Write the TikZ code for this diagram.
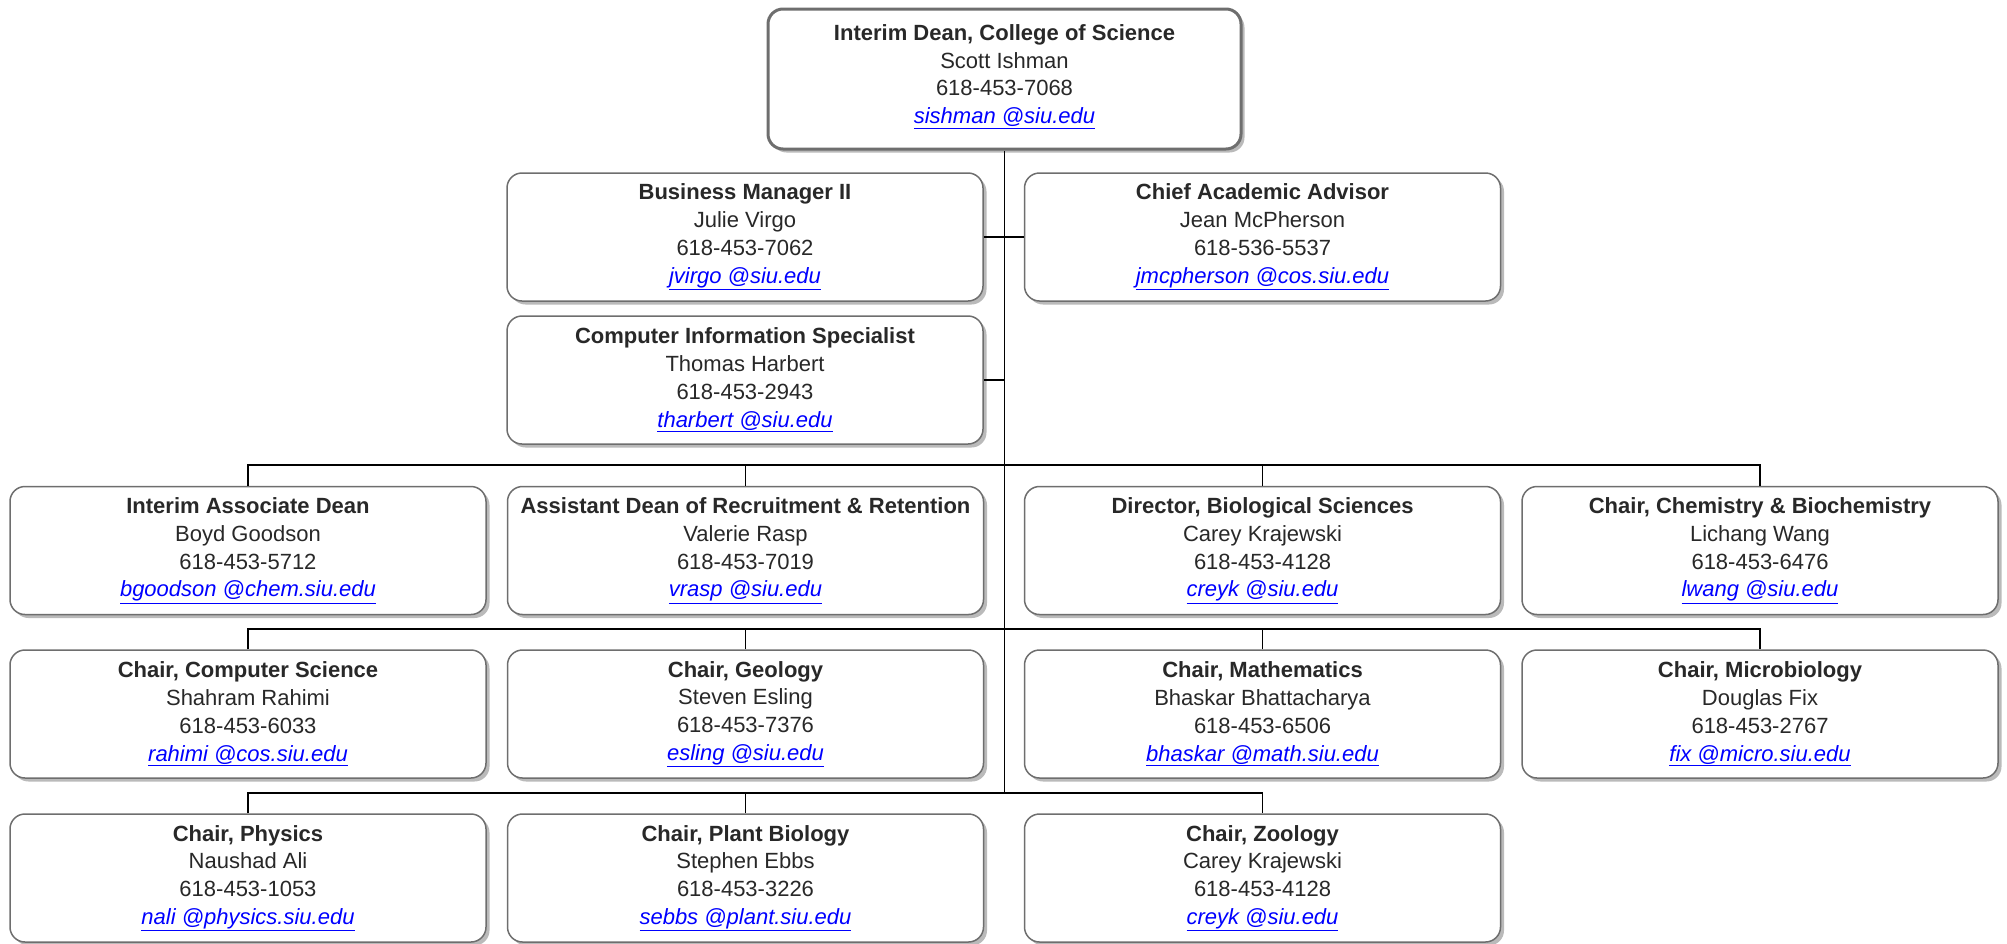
\documentclass[tikz,border=0pt]{standalone}
\usepackage{fontspec}
\setmainfont{Liberation Sans}
\usetikzlibrary{shadows}
\definecolor{boxline}{RGB}{110,110,110}
\definecolor{txt}{RGB}{40,40,40}
\definecolor{mailblue}{RGB}{0,0,255}
\newcommand\orgmail[1]{\textcolor{mailblue}{\itshape\underline{#1}}}
\newcommand\orgcard[4]{\textbf{#1}\\#2\\#3\\\orgmail{#4}}
\begin{document}
\begin{tikzpicture}[x=1pt,y=-1pt,
  card/.style={rectangle, rounded corners=15pt, draw=boxline, line width=1.5pt,
    fill=white, minimum width=476pt, minimum height=128pt, inner sep=0pt,
    align=center, text=txt, font=\fontsize{22}{27.8}\selectfont,
    drop shadow={shadow xshift=3.5pt, shadow yshift=-3.5pt, fill=black!45, opacity=0.6}},
  topcard/.style={card, line width=3pt, minimum width=473pt, minimum height=140pt},
  conn/.style={draw=black, line width=1.8pt}]
\useasboundingbox (0,0) rectangle (2007,943);

\node[topcard] (dean) at (1004.5,79) {\orgcard{Interim Dean, College of Science}{Scott Ishman}{618-453-7068}{sishman @siu.edu}\\[-18pt]};

\node[card] (bm)  at (745,237)    {\orgcard{Business Manager II}{Julie Virgo}{618-453-7062}{jvirgo @siu.edu}};
\node[card] (cad) at (1262.5,237) {\orgcard{Chief Academic Advisor}{Jean McPherson}{618-536-5537}{jmcpherson @cos.siu.edu}};
\node[card] (cis) at (745,380)    {\orgcard{Computer Information Specialist}{Thomas Harbert}{618-453-2943}{tharbert @siu.edu}};

\node[card] (iad)  at (248,550.5)    {\orgcard{Interim Associate Dean}{Boyd Goodson}{618-453-5712}{bgoodson @chem.siu.edu}};
\node[card] (adr)  at (745.5,550.5)  {\orgcard{Assistant Dean of Recruitment \& Retention}{Valerie Rasp}{618-453-7019}{vrasp @siu.edu}};
\node[card] (bio)  at (1262.5,550.5) {\orgcard{Director, Biological Sciences}{Carey Krajewski}{618-453-4128}{creyk @siu.edu}};
\node[card] (chem) at (1760,550.5)   {\orgcard{Chair, Chemistry \& Biochemistry}{Lichang Wang}{618-453-6476}{lwang @siu.edu}};

\node[card] (cs)   at (248,714)    {\orgcard{Chair, Computer Science}{Shahram Rahimi}{618-453-6033}{rahimi @cos.siu.edu}};
\node[card] (geo)  at (745.5,714)  {\orgcard{Chair, Geology}{Steven Esling}{618-453-7376}{esling @siu.edu}};
\node[card] (math) at (1262.5,714) {\orgcard{Chair, Mathematics}{Bhaskar Bhattacharya}{618-453-6506}{bhaskar @math.siu.edu}};
\node[card] (micro) at (1760,714)  {\orgcard{Chair, Microbiology}{Douglas Fix}{618-453-2767}{fix @micro.siu.edu}};

\node[card] (phys)  at (248,878)    {\orgcard{Chair, Physics}{Naushad Ali}{618-453-1053}{nali @physics.siu.edu}};
\node[card] (plant) at (745.5,878)  {\orgcard{Chair, Plant Biology}{Stephen Ebbs}{618-453-3226}{sebbs @plant.siu.edu}};
\node[card] (zoo)   at (1262.5,878) {\orgcard{Chair, Zoology}{Carey Krajewski}{618-453-4128}{creyk @siu.edu}};

\coordinate (b1) at (1004.5,465);
\coordinate (b2) at (1004.5,629);
\coordinate (b3) at (1004.5,793);

\draw[conn] (dean.south) -- (b3);
\draw[conn] (bm.east) -- (cad.west);
\draw[conn] (cis.east) -- (cis.east -| b1);
\draw[conn] (iad.north) |- (b1) -| (chem.north);
\draw[conn] (adr.north) -- (adr.north |- b1);
\draw[conn] (bio.north) -- (bio.north |- b1);
\draw[conn] (cs.north) |- (b2) -| (micro.north);
\draw[conn] (geo.north) -- (geo.north |- b2);
\draw[conn] (math.north) -- (math.north |- b2);
\draw[conn] (phys.north) |- (b3) -| (zoo.north);
\draw[conn] (plant.north) -- (plant.north |- b3);
\end{tikzpicture}
\end{document}
